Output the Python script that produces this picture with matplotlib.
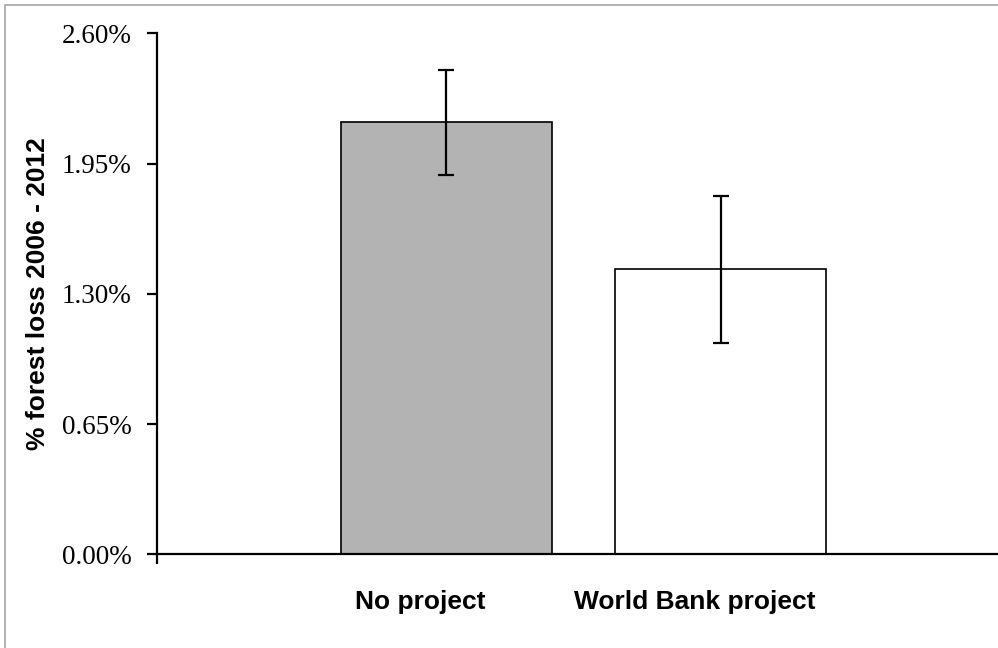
import matplotlib
matplotlib.use("Agg")
import matplotlib.pyplot as plt
import matplotlib.ticker as mticker
from matplotlib.patches import Rectangle

# values (percent)
categories = ["No project", "World Bank project"]
forest_loss = [2.155, 1.422]
error = [0.26, 0.367]
bar_colors = ["#b3b3b3", "#ffffff"]
yticks = [0.0, 0.65, 1.30, 1.95, 2.60]

fig = plt.figure(figsize=(9.98, 6.48), dpi=100)
ax = fig.add_axes([0.1573, 0.1446, 0.8427, 0.804])

x = list(range(len(categories)))
ax.bar(x, forest_loss, width=0.768, color=bar_colors, edgecolor="black",
       linewidth=1.2, zorder=2)
ax.errorbar(x, forest_loss, yerr=error, fmt="none", ecolor="black",
            elinewidth=1.6, capsize=6, capthick=1.6, zorder=3)

ax.set_xlim(-1.053, 2.009)
ax.set_ylim(0, 2.6)

for side in ["top", "right"]:
    ax.spines[side].set_visible(False)
for side in ["left", "bottom"]:
    ax.spines[side].set_linewidth(1.6)

ax.set_yticks(yticks)
ax.yaxis.set_major_formatter(mticker.FormatStrFormatter("%.2f%%"))
ax.tick_params(axis="y", direction="out", length=7.5, width=1.6, pad=11,
               labelsize=19.5)
for lbl in ax.get_yticklabels():
    lbl.set_fontfamily("Liberation Serif")

# category labels sit a little left of the bar centres, as in the source
ax.set_xticks([i - 0.095 for i in x])
ax.set_xticklabels(categories, fontsize=19, fontweight="bold",
                   fontfamily="Liberation Sans")
ax.tick_params(axis="x", which="major", length=0, pad=26)
ax.set_xticks([-1.053], minor=True)
ax.tick_params(axis="x", which="minor", direction="out", length=7.5, width=1.6)

ax.set_ylabel("% forest loss 2006 - 2012", fontsize=19, fontweight="bold",
              fontfamily="Liberation Sans")
ax.yaxis.set_label_coords(-0.127, 0.5)

# thin grey frame of the chart area
fig.patches.append(Rectangle((5 / 998, -0.1), 1.2, 1 - 5 / 648 + 0.1,
                             transform=fig.transFigure, fill=False,
                             edgecolor="#a6a6a6", linewidth=1.2))

fig.savefig("out.png", dpi=100)
